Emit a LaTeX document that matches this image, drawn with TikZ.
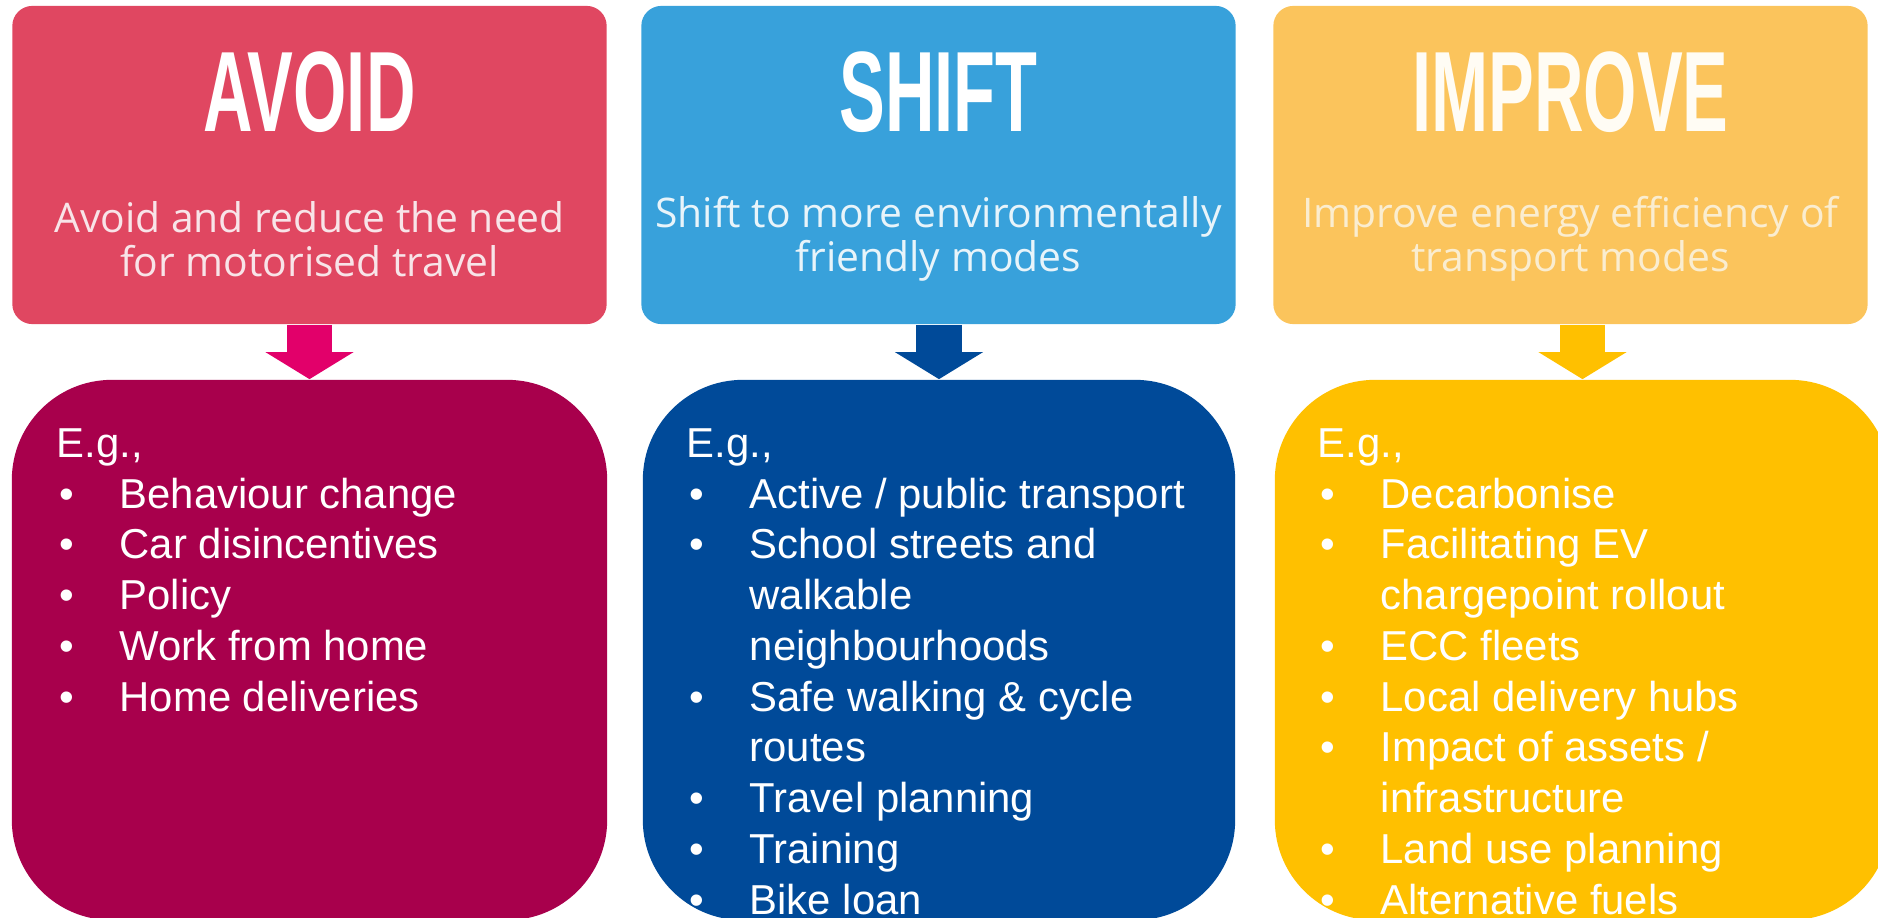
\documentclass[tikz,border=0pt]{standalone}
\usepackage{fontspec}
\setmainfont{Liberation Sans}
\newfontfamily\tagfont{Open Sans}
\usetikzlibrary{arrows.meta}

\definecolor{avoidTop}{RGB}{224,71,97}
\definecolor{shiftTop}{RGB}{56,161,219}
\definecolor{improveTop}{RGB}{251,196,92}
\definecolor{avoidLow}{RGB}{168,0,76}
\definecolor{shiftLow}{RGB}{0,74,153}
\definecolor{improveLow}{RGB}{255,192,0}
\definecolor{avoidArr}{RGB}{226,0,106}

% bullet line and its continuation line
\newcommand{\exitem}[1]{\makebox[0.63cm][l]{\hspace{0.03cm}\textbullet}#1}
\newcommand{\exmore}[1]{\hspace*{0.63cm}#1}

\begin{document}
\begin{tikzpicture}[x=0.01cm, y=-0.01cm,
  topbox/.style={rounded corners=0.2cm, minimum width=5.94cm, minimum height=3.18cm, inner sep=0pt},
  lowbox/.style={rounded corners=1cm, minimum height=5.4cm, inner sep=0pt},
  headline/.style={text=white, font=\fontsize{32.5}{32.5}\selectfont\bfseries, xscale=0.6, inner sep=0pt},
  tagline/.style={font=\tagfont\fontsize{11.6}{12.5}\selectfont, align=center, inner sep=0pt},
  exlist/.style={text=white, font=\fontsize{11.9}{14.43}\selectfont, align=left, anchor=north west, inner sep=0pt},
  blockarrow/.style={line width=0.45cm, -{Triangle[width=0.88cm, length=0.27cm, line width=0pt]}}]

\useasboundingbox (0,0) rectangle (1878,918);

% top row
\node[topbox, fill=avoidTop] (avoid) at (309.5,165) {};
\node[topbox, fill=shiftTop] (shift) at (938.5,165) {};
\node[topbox, fill=improveTop] (improve) at (1570.5,165) {};

\node[headline] (avoidHead) at (309.5,92) {AVOID};
\node[headline] (shiftHead) at (938.5,92) {SHIFT};
\node[headline, text={rgb,255:red,255;green,252;blue,244}] (improveHead) at (1570.5,92) {IMPROVE};

\node[tagline, text={rgb,255:red,248;green,228;blue,232}] (avoidTag) at (309.5,239) {Avoid and reduce the need\\for motorised travel};
\node[tagline, text={rgb,255:red,232;green,244;blue,250}] (shiftTag) at (938.5,239) {Shift to more environmentally\\friendly modes};
\node[tagline, text={rgb,255:red,250;green,237;blue,208}] (improveTag) at (1570.5,239) {Improve energy efficiency of\\transport modes};

% bottom row
\node[lowbox, fill=avoidLow, minimum width=5.95cm] (avoidEx) at (309.5,650) {};
\node[lowbox, fill=shiftLow, minimum width=5.92cm] (shiftEx) at (939,650) {};
\node[lowbox, fill=improveLow, minimum width=6.15cm] (improveEx) at (1582.5,650) {};

\node[exlist] (avoidList) at (56,428) {E.g.,\\
  \exitem{Behaviour change}\\
  \exitem{Car disincentives}\\
  \exitem{Policy}\\
  \exitem{Work from home}\\
  \exitem{Home deliveries}};

\node[exlist] (shiftList) at (686,428) {E.g.,\\
  \exitem{Active / public transport}\\
  \exitem{School streets and}\\
  \exmore{walkable}\\
  \exmore{neighbourhoods}\\
  \exitem{Safe walking \& cycle}\\
  \exmore{routes}\\
  \exitem{Travel planning}\\
  \exitem{Training}\\
  \exitem{Bike loan}};

\node[exlist] (improveList) at (1317,428) {E.g.,\\
  \exitem{Decarbonise}\\
  \exitem{Facilitating EV}\\
  \exmore{chargepoint rollout}\\
  \exitem{ECC fleets}\\
  \exitem{Local delivery hubs}\\
  \exitem{Impact of assets /}\\
  \exmore{infrastructure}\\
  \exitem{Land use planning}\\
  \exitem{Alternative fuels}};

% arrows down
\draw[blockarrow, avoidArr] (avoidEx.north |- avoid.south) -- (avoidEx.north); %avoid
\draw[blockarrow, shiftLow] (shiftEx.north |- shift.south) -- (shiftEx.north); %shift
\draw[blockarrow, improveLow] (improveEx.north |- improve.south) -- (improveEx.north); %improve

\end{tikzpicture}
\end{document}
